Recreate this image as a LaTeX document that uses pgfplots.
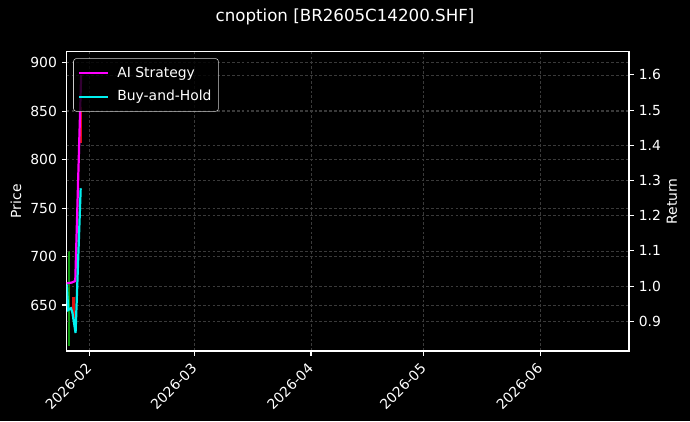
\documentclass[border=0pt]{standalone}
\usepackage{fontspec}
\setmainfont{DejaVu Sans}
\usepackage{pgfplots}
\pgfplotsset{compat=1.18}
\definecolor{gridc}{HTML}{3A3A3A}
\definecolor{mag}{HTML}{FF00FF}
\definecolor{cya}{HTML}{00F0F0}
\definecolor{cgreen}{HTML}{109A10}
\definecolor{cred}{HTML}{E01010}
\definecolor{legedge}{HTML}{CCCCCC}
\begin{document}
\begin{tikzpicture}
\fill[black] (-48pt,-50.4pt) rectangle (448.8pt,252.72pt);
\useasboundingbox (-48pt,-50.4pt) rectangle (448.8pt,252.72pt);
\pgfplotsset{common/.style={
  at={(0pt,0pt)}, anchor=south west, scale only axis,
  width=404.9pt, height=215.5pt,
  xmin=25, xmax=174.6,
  font=\fontsize{10}{12}\selectfont,
  tick style={white, line width=0.8pt},
  tick align=outside, major tick length=3.5pt,
  axis line style={white, line width=0.8pt},
  ticklabel style={white},
  label style={white},
  /pgf/number format/assume math mode=true,
  major grid style={gridc, line width=0.5pt, dash pattern=on 2pt off 1.5pt},
}}
\begin{axis}[common,
  ymin=602.5, ymax=911.4,
  ytick={650,700,750,800,850,900},
  xtick={31,59,90,120,151},
  xticklabels={2026-02,2026-03,2026-04,2026-05,2026-06},
  xticklabel style={xshift=-3pt, yshift=-3pt, rotate=45, anchor=north east, inner sep=1pt},
  xtick pos=left, ytick pos=left,
  xmajorgrids, ymajorgrids,
  ylabel={Price},
  ylabel style={at={(axis description cs:-0.0902,0.5)}, anchor=center},
]
\addplot[cgreen, line width=1.2pt] coordinates {(25.69,608) (25.69,706)};
\addplot[cred, line width=2pt] coordinates {(26.76,637) (26.76,658)};
\addplot[cred, line width=2pt] coordinates {(28.8,817) (28.8,854)};
\end{axis}
\begin{axis}[common,
  ymin=0.8156, ymax=1.666,
  ytick={0.9,1.0,...,1.61},
  yticklabel style={/pgf/number format/.cd, fixed, fixed zerofill, precision=1},
  axis x line=none, axis y line*=right, ytick pos=right,
  ymajorgrids,
  ylabel={Return},
  ylabel style={at={(axis description cs:1.0764,0.5)}, anchor=center},
  legend style={at={(axis description cs:0.0117,0.978)}, anchor=north west,
    fill=black, fill opacity=0.8, text opacity=1, draw=legedge, draw opacity=1,
    rounded corners=2pt, text=white, font=\fontsize{10}{12}\selectfont,
    inner xsep=3pt, inner ysep=4pt, row sep=4pt},
  legend cell align=left,
  legend image code/.code={\draw[#1] (0pt,0pt) -- (21pt,0pt); \path (25pt,0pt);},
]
\addplot[mag, line width=1.6pt] coordinates {
(25,1.008) (26.33,1.010) (27.29,1.0145) (28.85,1.600)};
\addlegendentry{AI Strategy}
\addplot[cya, line width=1.6pt] coordinates {
(25,1.005) (25.43,0.932) (26.14,0.937) (26.54,0.924) (27.37,0.867) (28.73,1.278)};
\addlegendentry{Buy-and-Hold}
\end{axis}
\node[white, font=\fontsize{12}{14}\selectfont] at (200.4pt,240.5pt) {cnoption [BR2605C14200.SHF]};
\end{tikzpicture}
\end{document}
